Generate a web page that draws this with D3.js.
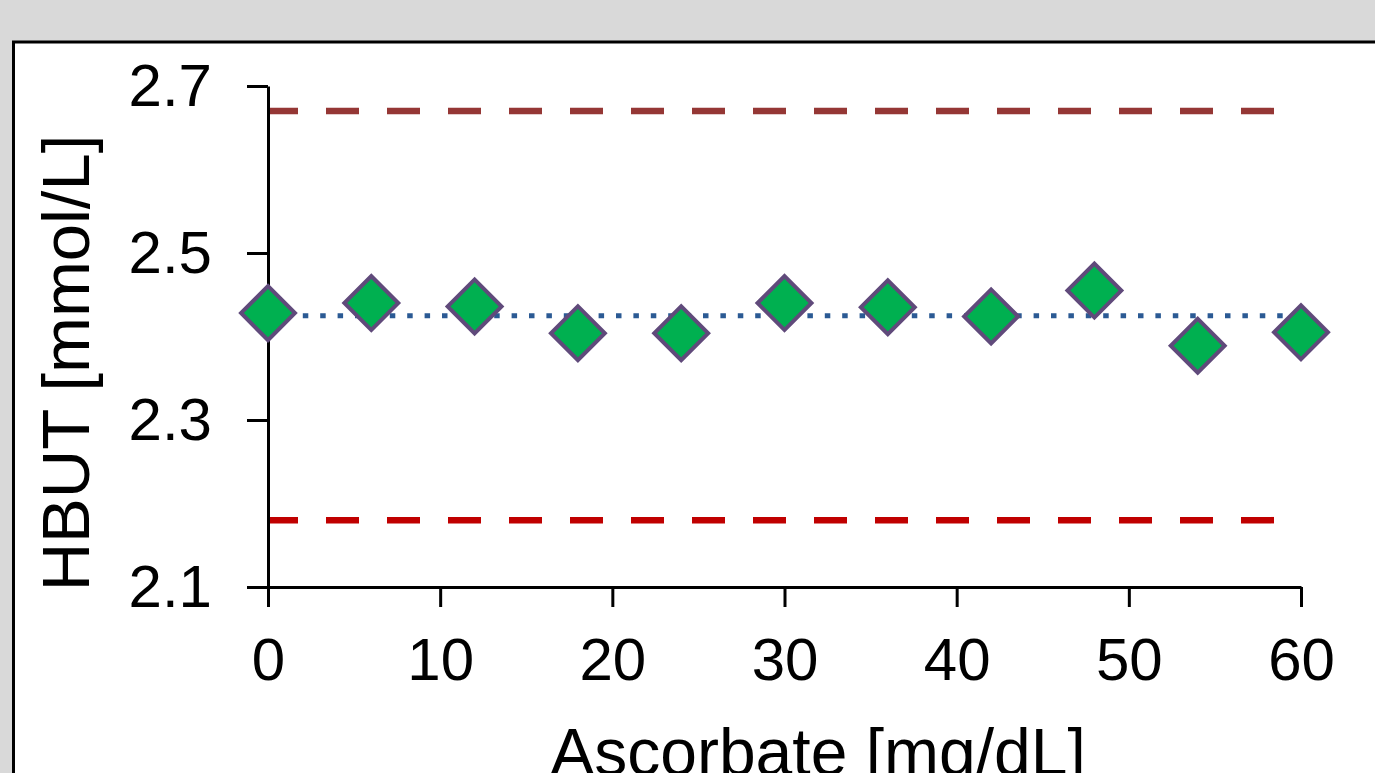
<!DOCTYPE html>
<html>
<head>
<meta charset="utf-8">
<script src="https://cdn.jsdelivr.net/npm/d3@7"></script>
<style>
  html, body { margin: 0; padding: 0; background: #d9d9d9; overflow: hidden; }
</style>
</head>
<body>
<script>
const overallWidth = 1375
const overallHeight = 773

// data
const ascorbate = [0, 6, 12, 18, 24, 30, 36, 42, 48, 54, 60]
const hbut = [2.428, 2.440, 2.436, 2.404, 2.404, 2.440, 2.435, 2.424, 2.455, 2.389, 2.405]
const meanLine = 2.425
const upperLimit = 2.670
const lowerLimit = 2.180
const xTicks = [0, 10, 20, 30, 40, 50, 60]
const yTicks = [2.1, 2.3, 2.5, 2.7]
const xTitle = 'Ascorbate [mg/dL]'
const yTitle = 'HBUT [mmol/L]'

const font = '"Liberation Sans", Arial, sans-serif'

const svg = d3.select('body').append('svg')
  .attr('width', overallWidth)
  .attr('height', overallHeight)
  .style('display', 'block')
  .style('font-family', font)

// outer chart frame (cut off right and bottom)
svg.append('rect')
  .attr('x', 13.5)
  .attr('y', 42)
  .attr('width', 1400)
  .attr('height', 800)
  .attr('fill', 'white')
  .attr('stroke', 'black')
  .attr('stroke-width', 3)

const x = d3.scaleLinear().domain([0, 60]).range([268, 1301])
const y = d3.scaleLinear().domain([2.1, 2.7]).range([587, 86])

// reference lines
const refs = [
  { v: upperLimit, color: '#953735', dash: '33,28', offset: 3, width: 6.5 },
  { v: lowerLimit, color: '#c00000', dash: '33,28', offset: 3, width: 6.5 },
  { v: meanLine, color: '#2b5a94', dash: '5.5,11.9', offset: 0, width: 5 }
]

svg.append('g').attr('class', 'refs')
  .selectAll('line')
  .data(refs).enter()
  .append('line')
  .attr('x1', x(0))
  .attr('x2', x(60))
  .attr('y1', d => y(d.v))
  .attr('y2', d => y(d.v))
  .attr('stroke', d => d.color)
  .attr('stroke-width', d => d.width)
  .attr('stroke-dasharray', d => d.dash)
  .attr('stroke-dashoffset', d => d.offset)

// axes
svg.append('g').attr('class', 'x axis')
  .attr('transform', `translate(0,${y(2.1)})`)
  .call(d3.axisBottom(x).tickValues(xTicks).tickSize(20).tickSizeOuter(0).tickPadding(30))
  .call(g => g.selectAll('path, line').attr('stroke', 'black').attr('stroke-width', 3))
  .selectAll('text')
  .style('font-family', font)
  .style('font-size', '60px')
  .attr('fill', 'black')

svg.append('g').attr('class', 'y axis')
  .attr('transform', `translate(${x(0)},0)`)
  .call(d3.axisLeft(y).tickValues(yTicks).tickSize(21).tickSizeOuter(0).tickPadding(35).tickFormat(d3.format('.1f')))
  .call(g => g.selectAll('path, line').attr('stroke', 'black').attr('stroke-width', 3))
  .selectAll('text')
  .style('font-family', font)
  .style('font-size', '60px')
  .attr('fill', 'black')

// points
const data = ascorbate.map((a, i) => ({ a, v: hbut[i] }))

svg.append('g').attr('class', 'points')
  .selectAll('path')
  .data(data).enter()
  .append('path')
  .attr('d', d3.symbol(d3.symbolSquare, 1450))
  .attr('transform', d => `translate(${x(d.a)},${y(d.v)}) rotate(45)`)
  .attr('fill', '#00b050')
  .attr('stroke', '#604a7b')
  .attr('stroke-width', 4)

// titles
svg.append('text')
  .text(yTitle)
  .attr('transform', `translate(89,${363}) rotate(-90)`)
  .style('text-anchor', 'middle')
  .style('font-size', '67px')
  .attr('fill', 'black')

svg.append('text')
  .text(xTitle)
  .attr('x', 818)
  .attr('y', 775)
  .style('text-anchor', 'middle')
  .style('font-size', '66px')
  .attr('fill', 'black')
</script>
</body>
</html>
